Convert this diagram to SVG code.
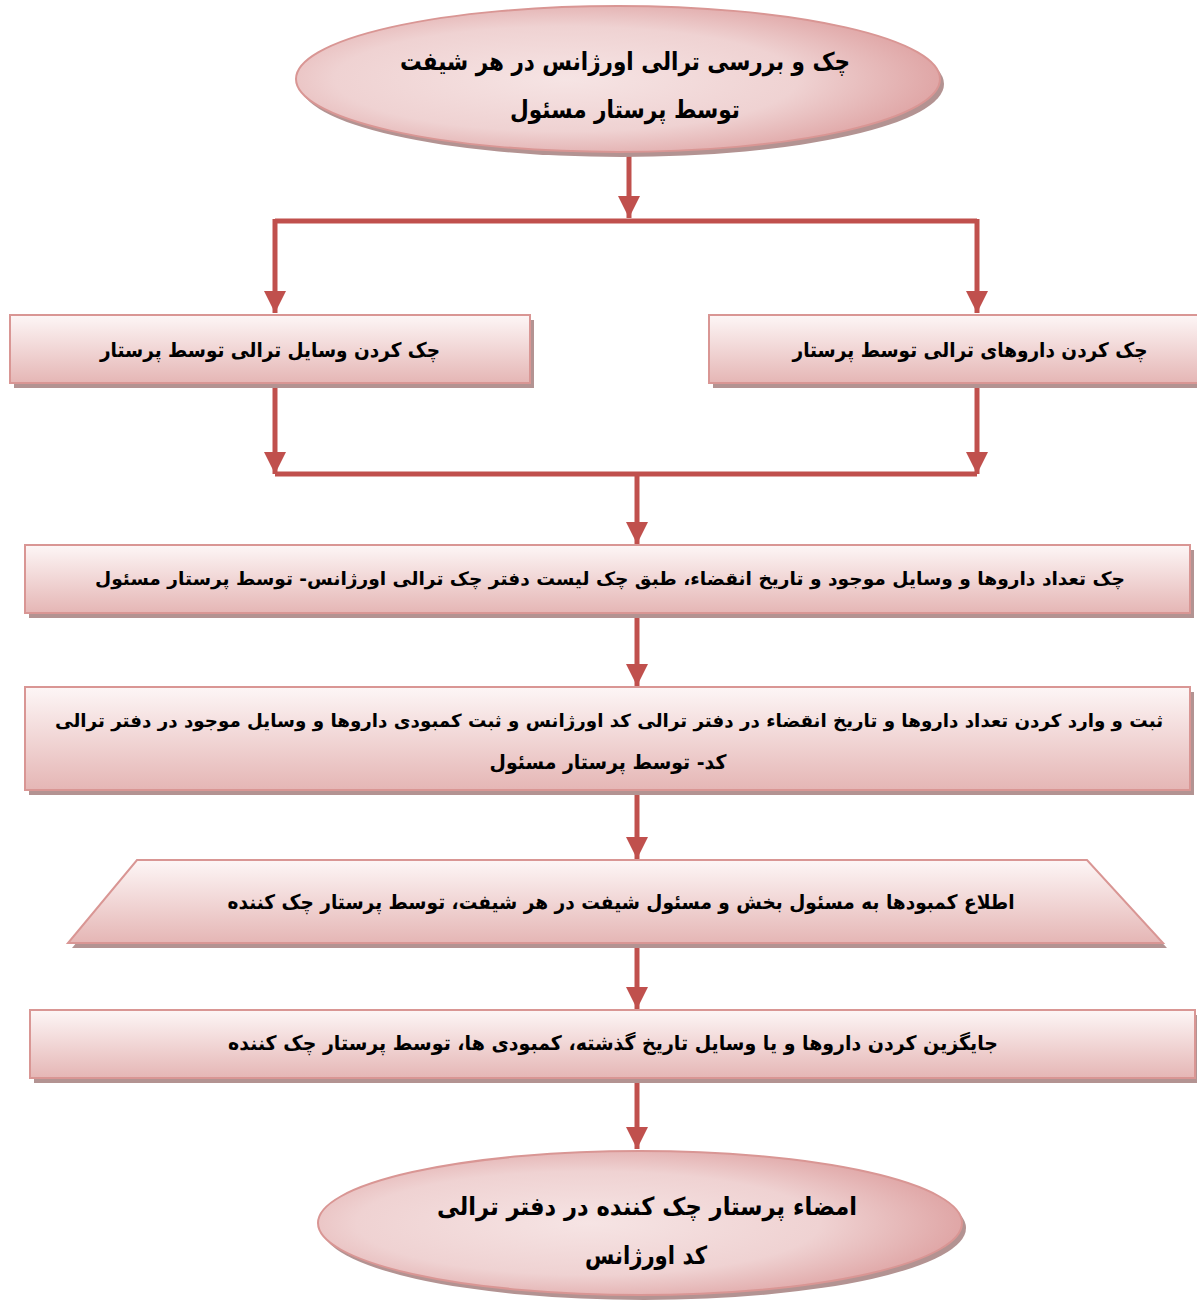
<svg xmlns="http://www.w3.org/2000/svg" width="1197" height="1301" viewBox="0 0 1197 1301">
<defs>
<linearGradient id="gBox" x1="0" y1="0" x2="0" y2="1">
<stop offset="0" stop-color="#fdf6f6"/>
<stop offset="1" stop-color="#e5b6b5"/>
</linearGradient>
<radialGradient id="gEll" cx="0.42" cy="0.5" r="0.6">
<stop offset="0" stop-color="#f6e4e4"/>
<stop offset="0.6" stop-color="#efd2d2"/>
<stop offset="1" stop-color="#dea2a2"/>
</radialGradient>
<marker id="ah" viewBox="0 0 10 10" refX="10" refY="5" markerWidth="4.4" markerHeight="4.4" orient="auto" markerUnits="strokeWidth">
<path d="M0,0 L10,5 L0,10 z" fill="#c0504d"/>
</marker>
</defs>
<style>
.shadow{fill:#b39392}
.box{fill:url(#gBox);stroke:#d99694;stroke-width:2}
.ell{fill:url(#gEll);stroke:#d99694;stroke-width:2}
.t{font-family:"DejaVu Sans",sans-serif;font-weight:bold;fill:#000;text-anchor:middle}
.ln{stroke:#c0504d;stroke-width:5;fill:none}
.arr{stroke:#c0504d;stroke-width:5;fill:none;marker-end:url(#ah)}
</style>
<rect width="1197" height="1301" fill="#fff"/>
<g id="connectors">
<line class="arr" x1="629" y1="152" x2="629" y2="218"/>
<line class="ln" x1="275" y1="221" x2="977" y2="221"/>
<line class="arr" x1="275" y1="219" x2="275" y2="313"/>
<line class="arr" x1="977" y1="219" x2="977" y2="313"/>
<line class="arr" x1="275" y1="384" x2="275" y2="474"/>
<line class="arr" x1="977" y1="384" x2="977" y2="474"/>
<line class="ln" x1="275" y1="474" x2="977" y2="474"/>
<line class="arr" x1="637" y1="472" x2="637" y2="544"/>
<line class="arr" x1="637" y1="613" x2="637" y2="686"/>
<line class="arr" x1="637" y1="791" x2="637" y2="859"/>
<line class="arr" x1="637" y1="944" x2="637" y2="1009"/>
<line class="arr" x1="637" y1="1079" x2="637" y2="1149"/>
</g>
<g id="n1">
<ellipse class="shadow" cx="622" cy="84" rx="322" ry="73"/>
<ellipse class="ell" cx="618" cy="79" rx="322" ry="73"/>
<text class="t" x="625" y="70" font-size="25" direction="rtl" textLength="450" lengthAdjust="spacingAndGlyphs">چک و بررسی ترالی اورژانس در هر شیفت</text>
<text class="t" x="625" y="118" font-size="25" direction="rtl" textLength="230" lengthAdjust="spacingAndGlyphs">توسط پرستار مسئول</text>
</g>
<g id="n2">
<rect class="shadow" x="14" y="320" width="520" height="68"/>
<rect class="box" x="10" y="315" width="520" height="68"/>
<text class="t" x="270" y="357" font-size="20" direction="rtl" textLength="340" lengthAdjust="spacingAndGlyphs">چک کردن وسایل ترالی توسط پرستار</text>
</g>
<g id="n3">
<rect class="shadow" x="713" y="320" width="500" height="68"/>
<rect class="box" x="709" y="315" width="500" height="68"/>
<text class="t" x="970" y="357" font-size="20" direction="rtl" textLength="355" lengthAdjust="spacingAndGlyphs">چک کردن داروهای ترالی توسط پرستار</text>
</g>
<g id="n4">
<rect class="shadow" x="29" y="550" width="1165" height="68"/>
<rect class="box" x="25" y="545" width="1165" height="68"/>
<text class="t" x="610" y="585" font-size="18" direction="rtl" textLength="1030" lengthAdjust="spacingAndGlyphs">چک تعداد داروها و وسایل موجود و تاریخ انقضاء، طبق چک لیست دفتر چک ترالی اورژانس- توسط پرستار مسئول</text>
</g>
<g id="n5">
<rect class="shadow" x="29" y="692" width="1165" height="103"/>
<rect class="box" x="25" y="687" width="1165" height="103"/>
<text class="t" x="609" y="727" font-size="18" direction="rtl" textLength="1108" lengthAdjust="spacingAndGlyphs">ثبت و وارد کردن تعداد داروها و تاریخ انقضاء در دفتر ترالی کد اورژانس و ثبت کمبودی داروها و وسایل موجود در دفتر ترالی</text>
<text class="t" x="608" y="769" font-size="20" direction="rtl" textLength="237" lengthAdjust="spacingAndGlyphs">کد- توسط پرستار مسئول</text>
</g>
<g id="n6">
<polygon class="shadow" points="141,865 1091,865 1167,948 72,948"/>
<polygon class="box" points="137,860 1087,860 1163,943 68,943"/>
<text class="t" x="621" y="909" font-size="20" direction="rtl" textLength="787" lengthAdjust="spacingAndGlyphs">اطلاع کمبودها به مسئول بخش و مسئول شیفت در هر شیفت، توسط پرستار چک کننده</text>
</g>
<g id="n7">
<rect class="shadow" x="34" y="1015" width="1165" height="68"/>
<rect class="box" x="30" y="1010" width="1165" height="68"/>
<text class="t" x="613" y="1050" font-size="20" direction="rtl" textLength="770" lengthAdjust="spacingAndGlyphs">جایگزین کردن داروها و یا وسایل تاریخ گذشته، کمبودی ها، توسط پرستار چک کننده</text>
</g>
<g id="n8">
<ellipse class="shadow" cx="644" cy="1228" rx="322" ry="72"/>
<ellipse class="ell" cx="640" cy="1223" rx="322" ry="72"/>
<text class="t" x="647" y="1215" font-size="25" direction="rtl" textLength="420" lengthAdjust="spacingAndGlyphs">امضاء پرستار چک کننده در دفتر ترالی</text>
<text class="t" x="646" y="1264" font-size="25" direction="rtl" textLength="122" lengthAdjust="spacingAndGlyphs">کد اورژانس</text>
</g>
</svg>
